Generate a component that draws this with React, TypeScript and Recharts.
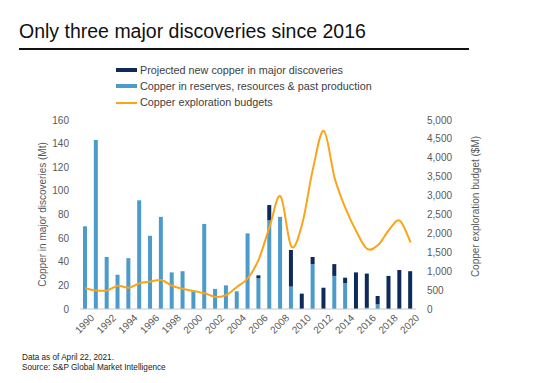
import React from 'react';
import { ComposedChart, Bar, Line, XAxis, YAxis, Label } from 'recharts';

const years = ['1990','1991','1992','1993','1994','1995','1996','1997','1998','1999','2000','2001','2002','2003','2004','2005','2006','2007','2008','2009','2010','2011','2012','2013','2014','2015','2016','2017','2018','2019','2020'];
const reserves = [70,143,44,29,43,92,62,78,31,32,15,72,17,20,15,64,26,75,78,19,0,38,0,28,22,0,1,4,0,0,0];
const projected = [0,0,0,0,0,0,0,0,0,0,0,0,0,0,0,0,2.5,13,0,31,13,6,18,10,4.5,31,29,7,28,33,32];
const budgets = [550,490,490,615,565,680,725,765,615,530,475,415,320,370,590,820,1320,2180,2980,1650,2250,3720,4710,3460,2660,2050,1590,1690,2090,2340,1760];
const leftTicks = [0,20,40,60,80,100,120,140,160];
const rightTicks = [0,500,1000,1500,2000,2500,3000,3500,4000,4500,5000];

const LIGHT = '#4b9bcb';
const DARK = '#0d2a5a';
const ORANGE = '#fba41b';
const TEXT = '#595959';
const FONT = '"Liberation Sans", Arial, sans-serif';

const data = years.map((y, i) => ({ year: y, reserves: reserves[i], projected: projected[i], budget: budgets[i] }));

// Excel-like smoothed line (Catmull-Rom through the points)
function smoothCurve(context: any) {
  let pts: [number, number][] = [];
  return {
    areaStart() {},
    areaEnd() {},
    lineStart() { pts = []; },
    point(x: number, y: number) { pts.push([+x, +y]); },
    lineEnd() {
      if (!pts.length) return;
      context.moveTo(pts[0][0], pts[0][1]);
      for (let i = 0; i < pts.length - 1; i++) {
        const p0 = pts[Math.max(i - 1, 0)];
        const p1 = pts[i];
        const p2 = pts[i + 1];
        const p3 = pts[Math.min(i + 2, pts.length - 1)];
        context.bezierCurveTo(
          p1[0] + (p2[0] - p0[0]) / 6, p1[1] + (p2[1] - p0[1]) / 6,
          p2[0] - (p3[0] - p1[0]) / 6, p2[1] - (p3[1] - p1[1]) / 6,
          p2[0], p2[1]
        );
      }
    },
  };
}

const XTick = (props: any) => {
  const { x, y, payload } = props;
  return (
    <g transform={`translate(${x + 7},${y + 7})`}>
      <text x={0} y={0} dy="0.35em" textAnchor="end" transform="rotate(-45)" fill={TEXT} fontSize={10} fontFamily={FONT}>
        {payload.value}
      </text>
    </g>
  );
};

const fmt = (v: number) => v.toLocaleString('en-US');

export default function App() {
  return (
    <div style={{ position: 'absolute', left: 0, top: 0, width: 540, height: 383, background: '#fff', fontFamily: FONT }}>
      <div style={{ position: 'absolute', left: 19, top: 19.7, fontSize: 19.5, lineHeight: '22px', color: '#111', whiteSpace: 'nowrap' }}>
        Only three major discoveries since 2016
      </div>
      <div style={{ position: 'absolute', left: 19, top: 47.5, width: 450, height: 2, background: '#111' }} />
      <div style={{ position: 'absolute', left: 116, top: 62, fontSize: 10.8, lineHeight: '16.2px', color: '#404040', whiteSpace: 'nowrap' }}>
        <div style={{ display: 'flex', alignItems: 'center' }}>
          <span style={{ display: 'inline-block', width: 21, height: 4, background: DARK, marginRight: 3 }} />Projected new copper in major discoveries
        </div>
        <div style={{ display: 'flex', alignItems: 'center' }}>
          <span style={{ display: 'inline-block', width: 21, height: 4, background: LIGHT, marginRight: 3 }} />Copper in reserves, resources &amp; past production
        </div>
        <div style={{ display: 'flex', alignItems: 'center' }}>
          <span style={{ display: 'inline-block', width: 21, height: 2, background: ORANGE, marginRight: 3 }} />Copper exploration budgets
        </div>
      </div>
      <div style={{ position: 'absolute', left: 0, top: 0 }}>
        <ComposedChart width={540} height={383} data={data} margin={{ top: 120, right: 64, bottom: 40, left: 20 }} barSize={4}>
          <XAxis dataKey="year" interval={1} tick={<XTick />} tickLine={false} tickSize={0} tickMargin={0} height={34} axisLine={{ stroke: '#c8c8c8' }} />
          <YAxis yAxisId="left" domain={[0, 160]} ticks={leftTicks} width={60} axisLine={false} tickLine={false} tickSize={6} tickMargin={5}
            tick={{ fill: TEXT, fontSize: 10, fontFamily: FONT }}>
            <Label value="Copper in major discoveries (Mt)" angle={-90} position="center" dx={-8} fill={TEXT} fontSize={10} fontFamily={FONT} />
          </YAxis>
          <YAxis yAxisId="right" orientation="right" domain={[0, 5000]} ticks={rightTicks} width={60} axisLine={false} tickLine={false} tickSize={6} tickMargin={5}
            tickFormatter={fmt} tick={{ fill: TEXT, fontSize: 10, fontFamily: FONT }}>
            <Label value="Copper exploration budget ($M)" angle={-90} position="center" dx={29} dy={-8} fill={TEXT} fontSize={10} fontFamily={FONT} />
          </YAxis>
          <Bar yAxisId="left" dataKey="reserves" stackId="a" fill={LIGHT} isAnimationActive={false} />
          <Bar yAxisId="left" dataKey="projected" stackId="a" fill={DARK} isAnimationActive={false} />
          <Line yAxisId="right" dataKey="budget" type={smoothCurve as any} stroke={ORANGE} strokeWidth={2} dot={false} isAnimationActive={false} />
        </ComposedChart>
      </div>
      <div style={{ position: 'absolute', left: 22, top: 353, fontSize: 8.2, lineHeight: '9.5px', color: '#222', whiteSpace: 'nowrap' }}>
        <div>Data as of April 22, 2021.</div>
        <div>Source: S&amp;P Global Market Intelligence</div>
      </div>
    </div>
  );
}
